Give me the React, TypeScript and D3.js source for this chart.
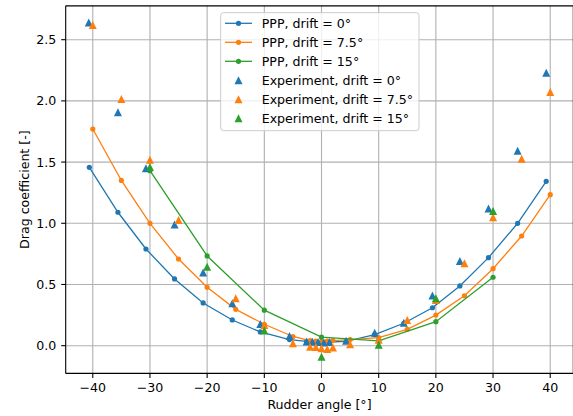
import React from "react";
import * as d3 from "d3";

// PPP, drift = 0°
const ppp0X = [-40.6, -35.6, -30.7, -25.7, -20.7, -15.6, -10.7, -5.6, -2.6, -1.6, -0.6, 0.4, 1.4, 4.3, 9.3, 14.4, 19.4, 24.2, 29.2, 34.3, 39.3];
const ppp0Y = [1.457, 1.09, 0.79, 0.545, 0.349, 0.21, 0.112, 0.05, 0.035, 0.03, 0.028, 0.028, 0.03, 0.035, 0.09, 0.183, 0.31, 0.488, 0.719, 1.0, 1.343];
// PPP, drift = 7.5°
const ppp75X = [-40, -35, -30, -25, -20, -15, -10, -5, -2, -1, 0, 1, 2, 5, 10, 15, 20, 25, 30, 35, 40];
const ppp75Y = [1.77, 1.35, 1.0, 0.708, 0.477, 0.297, 0.175, 0.075, 0.042, 0.037, 0.035, 0.037, 0.042, 0.05, 0.065, 0.134, 0.25, 0.408, 0.629, 0.896, 1.234];
// PPP, drift = 15°
const ppp15X = [-30, -20, -10, 0, 10, 20, 30];
const ppp15Y = [1.43, 0.733, 0.29, 0.07, 0.04, 0.196, 0.559];

// Experiment, drift = 0°
const exp0X = [-40.7, -35.6, -30.7, -25.7, -20.7, -15.6, -10.7, -5.6, -2.6, -1.6, -0.6, 0.4, 1.4, 4.3, 9.3, 14.4, 19.4, 24.2, 29.2, 34.3, 39.3];
const exp0Y = [2.64, 1.907, 1.45, 0.99, 0.597, 0.346, 0.177, 0.08, 0.035, 0.032, 0.03, 0.026, 0.03, 0.04, 0.105, 0.188, 0.409, 0.692, 1.12, 1.593, 2.23];
// Experiment, drift = 7.5°
const exp75X = [-40, -35, -30, -25, -15, -10, -5, -2, -1, 0, 1, 2, 5, 10, 15, 20, 25, 30, 35, 40];
const exp75Y = [2.62, 2.015, 1.52, 1.026, 0.387, 0.169, 0.02, -0.008, -0.01, -0.02, -0.027, -0.015, 0.012, 0.048, 0.21, 0.373, 0.673, 1.049, 1.528, 2.073];
// Experiment, drift = 15°
const exp15X = [-30, -20, -10, 0, 10, 20, 30];
const exp15Y = [1.46, 0.645, 0.123, -0.09, 0.008, 0.387, 1.1];

const xTicks = [-40, -30, -20, -10, 0, 10, 20, 30, 40];
const yTicks = [0.0, 0.5, 1.0, 1.5, 2.0, 2.5];

const legendLabels = [
  "PPP, drift = 0°",
  "PPP, drift = 7.5°",
  "PPP, drift = 15°",
  "Experiment, drift = 0°",
  "Experiment, drift = 7.5°",
  "Experiment, drift = 15°",
];

const C0 = "#1f77b4";
const C1 = "#ff7f0e";
const C2 = "#2ca02c";
const FONT = "DejaVu Sans, sans-serif";
const FS = 12.6;

const W = 573;
const H = 416;
const L = 65.7;
const R = 573.3;
const T = 5.85;
const B = 373.4;

function tri(cx: number, cy: number, s: number) {
  const h = s / 2;
  return `M${cx},${cy - h}L${cx - h},${cy + h}L${cx + h},${cy + h}Z`;
}

export default function App() {
  const x = d3.scaleLinear().domain([-44.735, 44.035]).range([L, R]);
  const y = d3.scaleLinear().domain([-0.2265, 2.7765]).range([B, T]);
  const line = d3.line<[number, number]>().x((d) => x(d[0])).y((d) => y(d[1]));

  const ppp = [
    { xs: ppp0X, ys: ppp0Y, c: C0 },
    { xs: ppp75X, ys: ppp75Y, c: C1 },
    { xs: ppp15X, ys: ppp15Y, c: C2 },
  ];
  const exps = [
    { xs: exp0X, ys: exp0Y, c: C0 },
    { xs: exp75X, ys: exp75Y, c: C1 },
    { xs: exp15X, ys: exp15Y, c: C2 },
  ];
  const fmtX = (v: number) => (v < 0 ? "\u2212" + Math.abs(v) : String(v));
  const tickLen = 4.5;

  const legX = 220.7;
  const legY = 12.7;
  const rowY = (i: number) => 23.3 + i * 19.0;

  return (
    <svg width={W} height={H} style={{ position: "absolute", left: 0, top: 0 }} fontFamily={FONT}>
      <defs>
        <clipPath id="plotclip">
          <rect x={L} y={T} width={R - L} height={B - T} />
        </clipPath>
      </defs>
      <rect x={0} y={0} width={W} height={H} fill="#fff" />
      {/* grid */}
      <g stroke="#b0b0b0" strokeWidth={1.1}>
        {xTicks.map((t) => (
          <line key={"gx" + t} x1={x(t)} x2={x(t)} y1={T} y2={B} />
        ))}
        {yTicks.map((t) => (
          <line key={"gy" + t} x1={L} x2={R} y1={y(t)} y2={y(t)} />
        ))}
      </g>
      <g clipPath="url(#plotclip)">
        {ppp.map((s, i) => (
          <g key={"p" + i}>
            <path d={line(s.xs.map((v, j) => [v, s.ys[j]]) as [number, number][]) || ""} fill="none" stroke={s.c} strokeWidth={1.3} />
            {s.xs.map((v, j) => (
              <circle key={j} cx={x(v)} cy={y(s.ys[j])} r={2.6} fill={s.c} />
            ))}
          </g>
        ))}
        {exps.map((s, i) => (
          <g key={"e" + i}>
            {s.xs.map((v, j) => (
              <path key={j} d={tri(x(v), y(s.ys[j]), 8.0)} fill={s.c} />
            ))}
          </g>
        ))}
      </g>
      {/* spines */}
      <g stroke="#000" strokeWidth={1.1} fill="none">
        <line x1={L} x2={L} y1={T} y2={B} />
        <line x1={L} x2={R} y1={B} y2={B} />
        <line x1={L} x2={R} y1={T} y2={T} />
        <line x1={R} x2={R} y1={T} y2={B} />
      </g>
      {/* ticks */}
      <g stroke="#000" strokeWidth={1.1}>
        {xTicks.map((t) => (
          <line key={"tx" + t} x1={x(t)} x2={x(t)} y1={B} y2={B + tickLen} />
        ))}
        {yTicks.map((t) => (
          <line key={"ty" + t} x1={L - tickLen} x2={L} y1={y(t)} y2={y(t)} />
        ))}
      </g>
      <g fontSize={FS} fill="#000">
        {xTicks.map((t) => (
          <text key={"lx" + t} x={x(t)} y={392} textAnchor="middle">
            {fmtX(t)}
          </text>
        ))}
        {yTicks.map((t) => (
          <text key={"ly" + t} x={L - 2 * tickLen - 0.5} y={y(t) + 4.6} textAnchor="end">
            {t.toFixed(1)}
          </text>
        ))}
        <text x={(L + R) / 2} y={409} textAnchor="middle">
          Rudder angle [°]
        </text>
        <text transform={`translate(28.5, ${(T + B) / 2}) rotate(-90)`} textAnchor="middle">
          Drag coefficient [-]
        </text>
      </g>
      {/* legend */}
      <g>
        <rect x={legX} y={legY} width={198.3} height={118} rx={2.8} fill="#fff" fillOpacity={0.8} stroke="#cccccc" strokeWidth={1} />
        {legendLabels.map((lab, i) => {
          const cy = rowY(i);
          const c = [C0, C1, C2][i % 3];
          return (
            <g key={"lg" + i}>
              {i < 3 ? (
                <>
                  <line x1={225} x2={252} y1={cy} y2={cy} stroke={c} strokeWidth={1.3} />
                  <circle cx={238.5} cy={cy} r={2.6} fill={c} />
                </>
              ) : (
                <path d={tri(238.5, cy, 8.0)} fill={c} />
              )}
              <text x={261.7} y={cy + 4.6} fontSize={FS} fill="#000">
                {lab}
              </text>
            </g>
          );
        })}
      </g>
    </svg>
  );
}
